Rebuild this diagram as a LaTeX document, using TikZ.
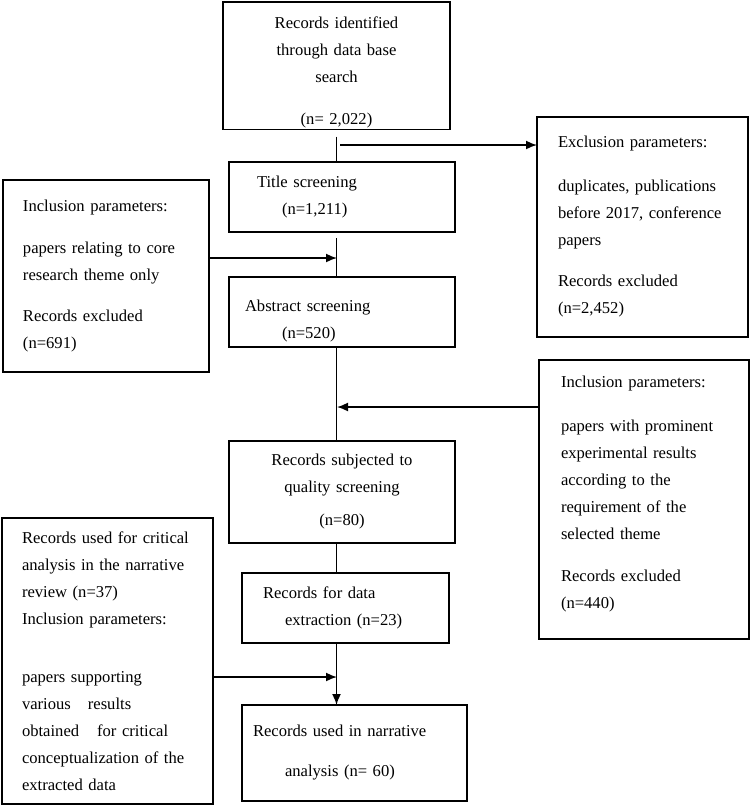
\documentclass[tikz,border=0pt]{standalone}
\usepackage{fontspec}
\setmainfont{Liberation Serif}
\usetikzlibrary{arrows.meta}

\begin{document}
\begin{tikzpicture}
[x=1pt,y=-1pt,
 boxdecorate/.style={draw,line width=1.5pt,anchor=north west,outer sep=0pt,
   inner ysep=2pt,align=left,font=\fontsize{16.6}{27}\selectfont},
 linedecorate/.style={-,line width=1.6pt},
 arrowdecorate/.style={-{Latex[length=11pt,width=9pt]},line width=1.6pt}]
\useasboundingbox (0,0) rectangle (751,806);
%% main boxes
\node (ident) at (223,2) [boxdecorate,minimum width=227pt,minimum height=123pt,
  inner xsep=10pt,text width=207pt,align=center]
  {\rule{0pt}{24pt}Records identified\\ through data base\\ search\\[15pt] (n= 2,022)};
\node (title) at (229,162) [boxdecorate,minimum width=226pt,minimum height=70pt,
  inner xsep=28pt,text width=170pt]
  {Title screening\\ \hspace*{25pt}(n=1,211)};
\node (abstr) at (229,277) [boxdecorate,minimum width=226pt,minimum height=70pt,
  inner xsep=16pt,text width=194pt]
  {\rule{0pt}{29pt}Abstract screening\\ \hspace*{37pt}(n=520)};
\node (quality) at (229,441) [boxdecorate,minimum width=226pt,minimum height=102pt,
  inner xsep=10pt,text width=206pt,align=center]
  {Records subjected to\\ quality screening\\[6pt] (n=80)};
\node (extract) at (242,573) [boxdecorate,minimum width=207pt,minimum height=70pt,
  inner xsep=21pt,text width=165pt]
  {Records for data\\ \hspace*{22pt}extraction (n=23)};
\node (narr) at (242,705) [boxdecorate,minimum width=225pt,minimum height=96pt,
  inner xsep=11pt,text width=203pt]
  {Records used in narrative\\[13pt] \hspace*{32pt}analysis (n= 60)};
%% side boxes
\node (excl) at (537,117) [boxdecorate,minimum width=211pt,minimum height=220pt,
  inner xsep=21pt,text width=169pt]
  {Exclusion parameters:\\[17pt] duplicates, publications\\ before 2017, conference\\
   papers\\[14pt] Records excluded\\ (n=2,452)};
\node (incl1) at (3,180) [boxdecorate,minimum width=206pt,minimum height=192pt,
  inner xsep=20pt,text width=166pt]
  {Inclusion parameters:\\[15pt] papers relating to core\\ research theme only\\[14pt]
   Records excluded\\ (n=691)};
\node (incl2) at (539,360) [boxdecorate,minimum width=210pt,minimum height=279pt,
  inner xsep=22pt,text width=166pt]
  {Inclusion parameters:\\[17pt] papers with prominent\\ experimental results\\
   according to the\\ requirement of the\\ selected theme\\[15pt] Records excluded\\
   (n=440)\rule[-14pt]{0pt}{0pt}};
\node (recl) at (2,518) [boxdecorate,minimum width=211pt,minimum height=286pt,
  inner xsep=20pt,text width=171pt]
  {Records used for critical\\ analysis in the narrative\\ review (n=37)\\
   Inclusion parameters:\\[31pt] papers supporting\\ various\hspace{17pt}results\\
   obtained\hspace{18pt}for critical\\ conceptualization of the\\ extracted data};
%% spine lines
\draw[linedecorate,shorten <=7pt] (ident.south) -- (ident.south |- title.north);
\draw[linedecorate,shorten <=6pt] (ident.south |- title.south) -- (ident.south |- abstr.north);
\foreach \startnode/\endnode in {abstr/quality, quality/extract} {
  \draw[linedecorate] (ident.south |- \startnode.south) -- (ident.south |- \endnode.north);
}
\draw[arrowdecorate] (ident.south |- extract.south) -- (ident.south |- narr.north);
%% side arrows
\coordinate (exclin) at (340,145);
\coordinate (inclin) at (337,258);
\coordinate (inclout) at (337,407);
\coordinate (recin) at (337,677);
\draw[arrowdecorate] (exclin) -- (exclin -| excl.west);
\draw[arrowdecorate] (inclin -| incl1.east) -- (inclin);
\draw[arrowdecorate] (inclout -| incl2.west) -- (inclout);
\draw[arrowdecorate] (recin -| recl.east) -- (recin);
\end{tikzpicture}
\end{document}
